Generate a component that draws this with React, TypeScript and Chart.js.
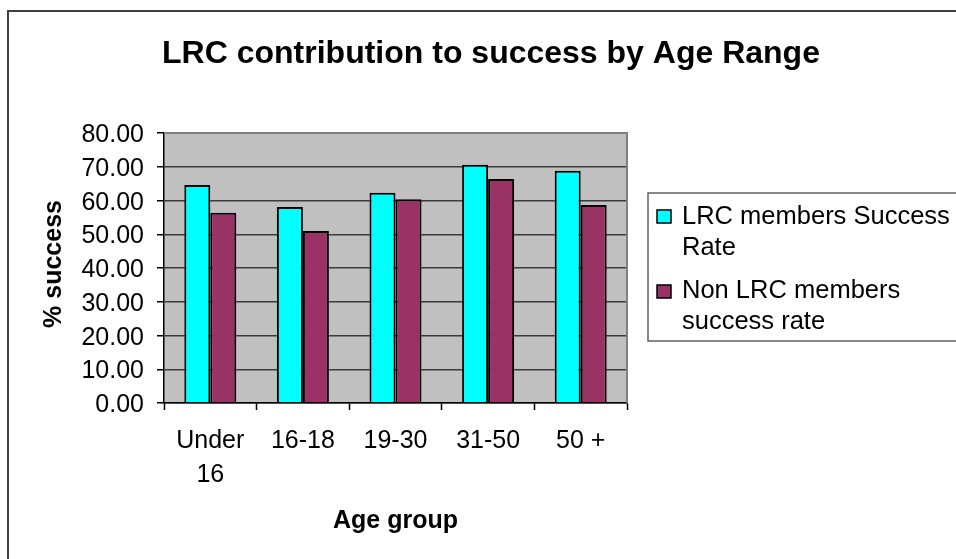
import { useEffect, useRef } from "react";
import { Chart, registerables } from "chart.js";

Chart.register(...registerables);

// Age bands along the category axis
const ageGroups: (string | string[])[] = [["Under", "16"], "16-18", "19-30", "31-50", "50 +"];

// Success rates (%) per age band
const lrcMembersRate = [64.6, 58.1, 62.3, 70.6, 68.8];
const nonLrcMembersRate = [56.4, 51.0, 60.4, 66.4, 58.7];

// Series names, wrapped the way the legend shows them
const seriesNames: string[][] = [
  ["LRC members Success", "Rate"],
  ["Non LRC members", "success rate"],
];
const seriesColors = ["#00FFFF", "#993366"];

const chartTitle = "LRC contribution to success by Age Range";
const xAxisTitle = "Age group";
const yAxisTitle = "% success";

const yMin = 0;
const yMax = 80;
const yStep = 10;

const FONT = "Arial, 'Liberation Sans', sans-serif";

function drawText(
  ctx: CanvasRenderingContext2D,
  text: string,
  x: number,
  y: number,
  font: string,
  align: CanvasTextAlign,
  rotate = 0
) {
  ctx.save();
  ctx.translate(x, y);
  if (rotate) ctx.rotate(rotate);
  ctx.font = font;
  ctx.fillStyle = "#000";
  ctx.textAlign = align;
  ctx.textBaseline = "alphabetic";
  ctx.fillText(text, 0, 0);
  ctx.restore();
}

const decorPlugin = {
  id: "excelDecor",
  beforeDraw(chart: any) {
    const { ctx, chartArea: a } = chart;
    ctx.save();
    ctx.fillStyle = "#fff";
    ctx.fillRect(0, 0, chart.width, chart.height);
    // plot background
    ctx.fillStyle = "#C0C0C0";
    ctx.fillRect(a.left, a.top, a.right - a.left, a.bottom - a.top);
    ctx.restore();
  },
  beforeDatasetsDraw(chart: any) {
    const { ctx, chartArea: a } = chart;
    ctx.save();
    ctx.strokeStyle = "#808080";
    ctx.lineWidth = 2;
    ctx.beginPath();
    ctx.moveTo(a.left, a.top);
    ctx.lineTo(a.right, a.top);
    ctx.lineTo(a.right, a.bottom);
    ctx.stroke();
    ctx.restore();
  },
  afterDraw(chart: any) {
    const { ctx, chartArea: a } = chart;
    const xs = chart.scales.x;
    const ys = chart.scales.y;

    // outer chart frame
    ctx.save();
    ctx.strokeStyle = "#404040";
    ctx.lineWidth = 2;
    ctx.strokeRect(8, 11, chart.width + 20, chart.height + 20);
    ctx.restore();

    // title
    drawText(ctx, chartTitle, 491, 63, `bold 32px ${FONT}`, "center");

    // y tick labels
    ys.ticks.forEach((t: any, i: number) => {
      const y = ys.getPixelForTick(i);
      drawText(ctx, Number(t.value).toFixed(2), a.left - 20, y + 9, `25px ${FONT}`, "right");
    });

    // x tick labels
    xs.ticks.forEach((_t: any, i: number) => {
      const x = xs.getPixelForTick(i);
      const lab = ageGroups[i];
      const lines = Array.isArray(lab) ? lab : [lab];
      lines.forEach((ln, j) => {
        drawText(ctx, ln, x, 448 + j * 34, `25px ${FONT}`, "center");
      });
    });

    // axis titles
    drawText(ctx, xAxisTitle, (a.left + a.right) / 2, 528, `bold 25px ${FONT}`, "center");
    drawText(ctx, yAxisTitle, 61, (a.top + a.bottom) / 2 - 4, `bold 25px ${FONT}`, "center", -Math.PI / 2);

    // legend
    ctx.save();
    ctx.strokeStyle = "#606060";
    ctx.lineWidth = 1.5;
    ctx.strokeRect(648, 193, 400, 148);
    ctx.restore();
    const swatchY = [210, 285];
    const baseY = [224, 298];
    seriesNames.forEach((lines, i) => {
      ctx.save();
      ctx.fillStyle = seriesColors[i];
      ctx.fillRect(657, swatchY[i], 14, 13);
      ctx.strokeStyle = "#000";
      ctx.lineWidth = 1.5;
      ctx.strokeRect(657, swatchY[i], 14, 13);
      ctx.restore();
      lines.forEach((ln, j) => {
        drawText(ctx, ln, 682, baseY[i] + j * 31, `25.5px ${FONT}`, "left");
      });
    });
  },
};

export default function App() {
  const canvasRef = useRef<HTMLCanvasElement>(null);

  useEffect(() => {
    if (!canvasRef.current) return;
    const chart = new Chart(canvasRef.current, {
      type: "bar",
      data: {
        labels: ageGroups,
        datasets: [
          {
            label: seriesNames[0].join(" "),
            data: lrcMembersRate,
            backgroundColor: seriesColors[0],
            borderColor: "#000",
            borderWidth: 2,
            categoryPercentage: 0.5616,
            barPercentage: 1,
          },
          {
            label: seriesNames[1].join(" "),
            data: nonLrcMembersRate,
            backgroundColor: seriesColors[1],
            borderColor: "#000",
            borderWidth: 2,
            categoryPercentage: 0.5616,
            barPercentage: 1,
          },
        ],
      },
      options: {
        responsive: false,
        animation: false,
        devicePixelRatio: 1,
        layout: { padding: { left: 0, top: 133, right: 329, bottom: 0 } },
        plugins: {
          legend: { display: false },
          title: { display: false },
          tooltip: { enabled: false },
        },
        scales: {
          x: {
            offset: true,
            ticks: { display: false },
            grid: {
              offset: true,
              drawOnChartArea: false,
              drawTicks: true,
              tickLength: 7,
              tickColor: "#000",
              tickWidth: 1.5,
            },
            border: { color: "#000", width: 1.5 },
            afterFit: (s: any) => {
              s.height = 156;
            },
          },
          y: {
            min: yMin,
            max: yMax,
            ticks: { display: false, stepSize: yStep },
            grid: {
              color: (c: any) => (c.tick && c.tick.value === yMax ? "#808080" : "#3a3a3a"),
              lineWidth: 1.5,
              drawTicks: true,
              tickLength: 7,
              tickColor: "#000",
              tickWidth: 1.5,
            },
            border: { color: "#000", width: 1.5 },
            afterFit: (s: any) => {
              s.width = 164;
            },
          },
        },
      },
      plugins: [decorPlugin],
    });
    return () => chart.destroy();
  }, []);

  return (
    <div style={{ position: "fixed", left: 0, top: 0, width: 956, height: 559, background: "#fff" }}>
      <canvas ref={canvasRef} width={956} height={559} style={{ display: "block" }} />
    </div>
  );
}
